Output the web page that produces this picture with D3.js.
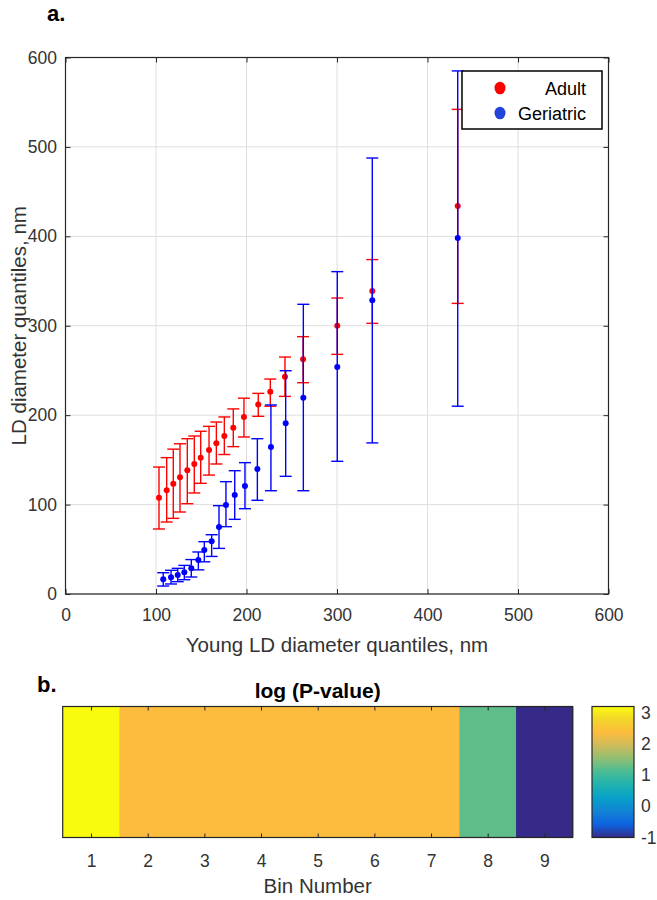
<!DOCTYPE html>
<html>
<head>
<meta charset="utf-8">
<script src="https://cdn.jsdelivr.net/npm/d3@7"></script>
<style>
  html, body { margin: 0; padding: 0; background: #fff; }
  svg { display: block; }
  text { font-family: "Liberation Sans", Arial, Helvetica, sans-serif; }
</style>
</head>
<body>
<svg id="chart" width="657" height="900"></svg>
<script>
// ---------- data ----------
const xTicks = [0, 100, 200, 300, 400, 500, 600];
const yTicks = [0, 100, 200, 300, 400, 500, 600];

const adultX  = [103.3, 111.8, 119.1, 126.5, 134.6, 142.3, 149.4, 158.6, 166.7, 175.5, 185.4, 197.2, 213.0, 226.3, 242.5, 262.5, 300.3, 339.0, 433.4];
const adultY  = [107.7, 116.0, 123.4, 130.5, 138.3, 145.4, 152.4, 161.0, 168.5, 176.7, 186.0, 198.0, 212.0, 226.3, 243.0, 262.5, 300.0, 339.0, 434.0];
const adultLo = [72.7, 80.5, 84.6, 91.7, 101.0, 113.0, 123.8, 133.0, 145.4, 156.0, 164.8, 175.6, 198.7, 210.0, 221.0, 236.3, 268.0, 302.7, 325.0];
const adultHi = [142.0, 152.5, 162.0, 168.0, 173.7, 176.7, 182.0, 187.5, 192.3, 198.0, 207.0, 219.0, 224.4, 240.4, 265.0, 287.8, 331.0, 374.0, 542.0];

const geriX  = [108.0, 116.6, 124.0, 131.3, 139.0, 146.8, 153.4, 161.5, 169.6, 177.3, 187.0, 198.3, 212.0, 227.0, 243.3, 262.8, 300.3, 339.0, 433.4];
const geriY  = [16.4, 18.7, 21.2, 24.2, 28.7, 38.0, 49.2, 58.9, 75.0, 99.5, 110.7, 120.8, 139.8, 164.4, 191.0, 219.5, 254.0, 328.4, 398.0];
const geriLo = [8.9, 11.2, 13.8, 16.0, 19.0, 27.0, 36.0, 42.0, 51.0, 75.3, 83.5, 95.4, 104.8, 115.5, 131.6, 115.5, 148.4, 169.0, 210.0];
const geriHi = [23.8, 26.5, 28.7, 32.0, 38.5, 47.0, 58.5, 66.3, 98.8, 125.6, 137.9, 146.9, 173.7, 211.4, 249.7, 324.0, 360.5, 487.6, 585.0];

const bins = [1, 2, 3, 4, 5, 6, 7, 8, 9];
const logP = [3.2, 2.36, 2.36, 2.36, 2.36, 2.36, 2.36, 1.23, -1.0];
const cbTicks = [-1, 0, 1, 2, 3];
const cLim = [-1, 3.2];

// parula-like colormap stops
const parulaStops = ["#352a87", "#0d64e0", "#1283d4", "#07a0c9", "#1fb2b0", "#48bc95", "#8fbf73", "#cbbb5b", "#fdbc3e", "#f3d52a", "#f9fb0e"];

// ---------- setup ----------
const svg = d3.select("#chart");
const axisColor = "#262626";
const textColor = "#333333";
const gridColor = "#dedede";
const tickFont = 17.5;
const labelFont = 20.5;

// ---------- panel a ----------
const x = d3.scaleLinear().domain([0, 600]).range([65.5, 608.5]);
const y = d3.scaleLinear().domain([0, 600]).range([594, 57.5]);

const gA = svg.append("g");

// grid
gA.append("g").selectAll("line").data(xTicks).join("line")
  .attr("x1", d => x(d)).attr("x2", d => x(d))
  .attr("y1", y(600)).attr("y2", y(0))
  .attr("stroke", gridColor).attr("stroke-width", 1);
gA.append("g").selectAll("line").data(yTicks).join("line")
  .attr("x1", x(0)).attr("x2", x(600))
  .attr("y1", d => y(d)).attr("y2", d => y(d))
  .attr("stroke", gridColor).attr("stroke-width", 1);

// axes
function styleAxis(g) {
  g.select(".domain").remove();
  g.selectAll(".tick line").attr("stroke", axisColor).attr("stroke-width", 1);
  g.selectAll(".tick text").attr("fill", textColor).attr("font-size", tickFont)
    .attr("font-family", '"Liberation Sans", Arial, sans-serif');
}
gA.append("g").attr("transform", `translate(0,${y(0)})`)
  .call(d3.axisBottom(x).tickValues(xTicks).tickSize(-5).tickPadding(14.5)).call(styleAxis);
gA.append("g").attr("transform", `translate(0,${y(600)})`)
  .call(d3.axisTop(x).tickValues(xTicks).tickSize(-5).tickFormat("")).call(styleAxis);
gA.append("g").attr("transform", `translate(${x(0)},0)`)
  .call(d3.axisLeft(y).tickValues(yTicks).tickSize(-5).tickPadding(8.5)).call(styleAxis);
gA.append("g").attr("transform", `translate(${x(600)},0)`)
  .call(d3.axisRight(y).tickValues(yTicks).tickSize(-5).tickFormat("")).call(styleAxis);

// box
gA.append("rect")
  .attr("x", x(0)).attr("y", y(600))
  .attr("width", x(600) - x(0)).attr("height", y(0) - y(600))
  .attr("fill", "none").attr("stroke", axisColor).attr("stroke-width", 1.2);

// error bars
function drawSeries(xs, ys, lo, hi, color) {
  const g = gA.append("g");
  const data = xs.map((d, i) => ({ x: d, y: ys[i], lo: lo[i], hi: hi[i] }));
  const cap = 6;
  g.selectAll("line.v").data(data).join("line").attr("class", "v")
    .attr("x1", d => x(d.x)).attr("x2", d => x(d.x))
    .attr("y1", d => y(d.lo)).attr("y2", d => y(d.hi))
    .attr("stroke", color).attr("stroke-width", 1.4);
  g.selectAll("line.t").data(data).join("line").attr("class", "t")
    .attr("x1", d => x(d.x) - cap).attr("x2", d => x(d.x) + cap)
    .attr("y1", d => y(d.hi)).attr("y2", d => y(d.hi))
    .attr("stroke", color).attr("stroke-width", 1.4);
  g.selectAll("line.b").data(data).join("line").attr("class", "b")
    .attr("x1", d => x(d.x) - cap).attr("x2", d => x(d.x) + cap)
    .attr("y1", d => y(d.lo)).attr("y2", d => y(d.lo))
    .attr("stroke", color).attr("stroke-width", 1.4);
  g.selectAll("circle").data(data).join("circle")
    .attr("cx", d => x(d.x)).attr("cy", d => y(d.y)).attr("r", 3)
    .attr("fill", color);
}
drawSeries(adultX, adultY, adultLo, adultHi, "#ff0000");
drawSeries(geriX, geriY, geriLo, geriHi, "#0000ff");

// legend
const leg = gA.append("g");
leg.append("rect").attr("x", 462).attr("y", 71).attr("width", 140).attr("height", 58)
  .attr("fill", "#fff").attr("stroke", "#000").attr("stroke-width", 1.5);
const legendItems = [{ name: "Adult", color: "#ff0000" }, { name: "Geriatric", color: "#2244dd" }];
legendItems.forEach((it, i) => {
  const cyy = 88 + i * 25;
  leg.append("ellipse").attr("cx", 500).attr("cy", cyy).attr("rx", 5.5).attr("ry", 6.3).attr("fill", it.color);
  leg.append("text").attr("x", 586).attr("y", cyy + 6.5).attr("text-anchor", "end")
    .attr("font-size", 18).attr("fill", "#000").text(it.name);
});

// axis labels
svg.append("text").attr("x", (x(0) + x(600)) / 2).attr("y", 652).attr("text-anchor", "middle")
  .attr("font-size", labelFont).attr("fill", textColor).text("Young LD diameter quantiles, nm");
svg.append("text").attr("transform", `translate(26,${(y(0) + y(600)) / 2}) rotate(-90)`)
  .attr("text-anchor", "middle").attr("font-size", labelFont).attr("fill", textColor)
  .text("LD diameter quantiles, nm");
svg.append("text").attr("x", 47).attr("y", 21).attr("font-size", 22).attr("font-weight", "bold")
  .attr("fill", "#000").text("a.");

// ---------- panel b ----------
const hx = d3.scaleLinear().domain([0.5, 9.5]).range([62.7, 572.7]);
const hTop = 706.5, hBot = 837.5;
const color = d3.scaleLinear()
  .domain(parulaStops.map((_, i) => cLim[0] + (cLim[1] - cLim[0]) * i / (parulaStops.length - 1)))
  .range(parulaStops).interpolate(d3.interpolateRgb).clamp(true);

const gB = svg.append("g");
gB.selectAll("rect.cell").data(bins).join("rect").attr("class", "cell")
  .attr("x", d => hx(d - 0.5)).attr("y", hTop)
  .attr("width", d => hx(d + 0.5) - hx(d - 0.5) + 0.5).attr("height", hBot - hTop)
  .attr("fill", (d, i) => color(logP[i]));

gB.append("g").attr("transform", `translate(0,${hBot})`)
  .call(d3.axisBottom(hx).tickValues(bins).tickSize(-4).tickPadding(17)).call(styleAxis);
gB.append("g").attr("transform", `translate(0,${hTop})`)
  .call(d3.axisTop(hx).tickValues(bins).tickSize(-4).tickFormat("")).call(styleAxis);
gB.append("rect").attr("x", hx(0.5)).attr("y", hTop)
  .attr("width", hx(9.5) - hx(0.5)).attr("height", hBot - hTop)
  .attr("fill", "none").attr("stroke", axisColor).attr("stroke-width", 1.2);

svg.append("text").attr("x", (hx(0.5) + hx(9.5)) / 2).attr("y", 698).attr("text-anchor", "middle")
  .attr("font-size", 21).attr("font-weight", "bold").attr("fill", "#000").text("log (P-value)");
svg.append("text").attr("x", (hx(0.5) + hx(9.5)) / 2).attr("y", 893).attr("text-anchor", "middle")
  .attr("font-size", labelFont).attr("fill", textColor).text("Bin Number");
svg.append("text").attr("x", 37).attr("y", 692).attr("font-size", 22).attr("font-weight", "bold")
  .attr("fill", "#000").text("b.");

// colorbar
const cbX0 = 592, cbX1 = 634;
const cb = d3.scaleLinear().domain(cLim).range([hBot, hTop]);
const defs = svg.append("defs");
const grad = defs.append("linearGradient").attr("id", "parula")
  .attr("x1", 0).attr("y1", 1).attr("x2", 0).attr("y2", 0);
grad.selectAll("stop").data(parulaStops).join("stop")
  .attr("offset", (d, i) => i / (parulaStops.length - 1))
  .attr("stop-color", d => d);
svg.append("rect").attr("x", cbX0).attr("y", hTop).attr("width", cbX1 - cbX0).attr("height", hBot - hTop)
  .attr("fill", "url(#parula)").attr("stroke", axisColor).attr("stroke-width", 1.2);
svg.append("g").attr("transform", `translate(${cbX1},0)`)
  .call(d3.axisRight(cb).tickValues(cbTicks).tickSize(0).tickPadding(7).tickFormat(d => String(d)))
  .call(styleAxis);
</script>
</body>
</html>
